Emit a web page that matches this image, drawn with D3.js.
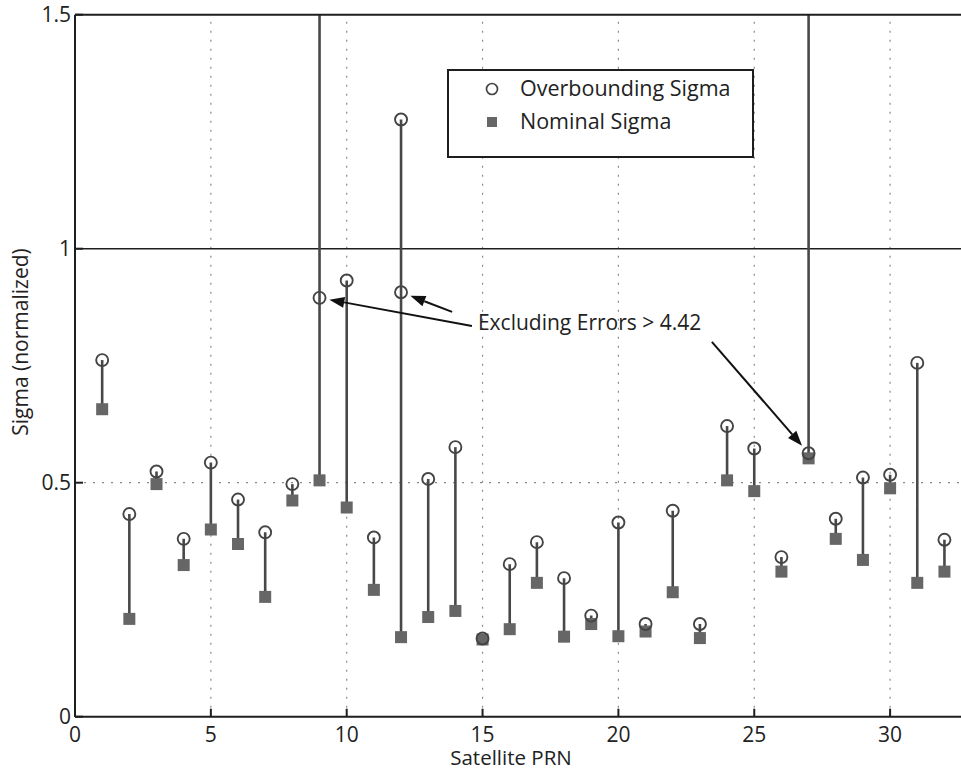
<!DOCTYPE html>
<html>
<head>
<meta charset="utf-8">
<script src="https://cdn.jsdelivr.net/npm/d3@7"></script>
<style>
  html, body { margin: 0; padding: 0; background: #fff; }
  svg { display: block; font-family: "Open Sans", "Noto Sans", sans-serif; }
</style>
</head>
<body>
<div id="chart"></div>
<script>
// Satellite PRN 1..32
const prn = d3.range(1, 33);
// overbounding sigma (PRN 9 and 27 are off the top of the chart)
const overbound = [0.762, 0.433, 0.524, 0.380, 0.543, 0.464, 0.394, 0.497, 1.9, 0.932,
                   0.383, 1.276, 0.508, 0.576, 0.167, 0.326, 0.373, 0.296, 0.216, 0.415,
                   0.198, 0.440, 0.198, 0.621, 0.573, 0.341, 1.9, 0.423, 0.511, 0.517,
                   0.756, 0.378];
const nominal = [0.657, 0.209, 0.497, 0.324, 0.400, 0.369, 0.256, 0.462, 0.505, 0.447,
                 0.271, 0.170, 0.213, 0.226, 0.165, 0.187, 0.286, 0.171, 0.198, 0.172,
                 0.182, 0.266, 0.168, 0.505, 0.482, 0.310, 0.552, 0.380, 0.335, 0.488,
                 0.286, 0.310];
// overbounding sigma after excluding errors > 4.42
const excludedPrn   = [9, 12, 27];
const excludedSigma = [0.895, 0.907, 0.563];

const xTicks = [0, 5, 10, 15, 20, 25, 30];
const yTicks = [0, 0.5, 1, 1.5];
const threshold = 1;

const COLORS = { axis: '#1e1e1e', text: '#222', stem: '#484848', square: '#666', circle: '#444', grid: '#8a8a8a' };

const W = 961, H = 769, M = { top: 14.7, left: 75 };
const unit = 27.17;
const iH = 702;
const FS = 21;

const svg = d3.select('#chart').append('svg').attr('width', W).attr('height', H);

const x = d3.scaleLinear().domain([0, 33]).range([M.left, M.left + 33 * unit]);
const y = d3.scaleLinear().domain([0, 1.5]).range([M.top + iH, M.top]);

svg.append('clipPath').attr('id', 'plot')
  .append('rect').attr('x', x(0)).attr('y', y(1.5)).attr('width', x(33) - x(0)).attr('height', iH);

// ── grid ──
const gridG = svg.append('g');
xTicks.filter(d => d > 0).forEach(v => {
  gridG.append('line').attr('x1', x(v)).attr('x2', x(v)).attr('y1', y(0)).attr('y2', y(1.5))
    .attr('stroke', COLORS.grid).attr('stroke-width', 1.2).attr('stroke-dasharray', '2,7');
});
gridG.append('line').attr('x1', x(0)).attr('x2', x(33)).attr('y1', y(0.5)).attr('y2', y(0.5))
  .attr('stroke', COLORS.grid).attr('stroke-width', 1.2).attr('stroke-dasharray', '2,7');

// threshold line
svg.append('line').attr('x1', x(0)).attr('x2', x(33)).attr('y1', y(threshold)).attr('y2', y(threshold))
  .attr('stroke', COLORS.axis).attr('stroke-width', 1.6);

// ── data ──
const data = prn.map((p, i) => ({ prn: p, over: overbound[i], nom: nominal[i] }));
const excl = excludedPrn.map((p, i) => ({ prn: p, val: excludedSigma[i] }));

const g = svg.append('g').attr('clip-path', 'url(#plot)');

g.selectAll('.stem').data(data).join('line')
  .attr('x1', d => x(d.prn)).attr('x2', d => x(d.prn))
  .attr('y1', d => y(d.nom)).attr('y2', d => y(d.over))
  .attr('stroke', COLORS.stem).attr('stroke-width', 2.6);

const sq = 12;
g.selectAll('.nom').data(data).join('rect')
  .attr('x', d => x(d.prn) - sq / 2).attr('y', d => y(d.nom) - sq / 2)
  .attr('width', sq).attr('height', sq)
  .attr('fill', COLORS.square);

g.selectAll('.over').data(data).join('circle')
  .attr('cx', d => x(d.prn)).attr('cy', d => y(d.over)).attr('r', 6)
  .attr('fill', 'none').attr('stroke', COLORS.circle).attr('stroke-width', 1.9);

g.selectAll('.excl').data(excl).join('circle')
  .attr('cx', d => x(d.prn)).attr('cy', d => y(d.val)).attr('r', 6)
  .attr('fill', 'none').attr('stroke', COLORS.circle).attr('stroke-width', 1.9);

// ── axes / box ──
const axisG = svg.append('g');
axisG.append('line').attr('x1', x(0)).attr('x2', x(0)).attr('y1', y(0)).attr('y2', y(1.5))
  .attr('stroke', COLORS.axis).attr('stroke-width', 2);
axisG.append('line').attr('x1', x(0)).attr('x2', W).attr('y1', y(0)).attr('y2', y(0))
  .attr('stroke', COLORS.axis).attr('stroke-width', 2);
axisG.append('line').attr('x1', x(0)).attr('x2', W).attr('y1', y(1.5)).attr('y2', y(1.5))
  .attr('stroke', COLORS.axis).attr('stroke-width', 2);

xTicks.forEach(v => {
  axisG.append('line').attr('x1', x(v)).attr('x2', x(v)).attr('y1', y(0)).attr('y2', y(0) - 8)
    .attr('stroke', COLORS.axis).attr('stroke-width', 2);
  axisG.append('text').attr('x', x(v)).attr('y', y(0) + 25)
    .attr('text-anchor', 'middle').attr('fill', COLORS.text).attr('font-size', FS)
    .text(v);
});
yTicks.forEach(v => {
  axisG.append('line').attr('x1', x(0)).attr('x2', x(0) + 8).attr('y1', y(v)).attr('y2', y(v))
    .attr('stroke', COLORS.axis).attr('stroke-width', 2);
  axisG.append('text').attr('x', x(0) - 4).attr('y', y(v) + 7)
    .attr('text-anchor', 'end').attr('fill', COLORS.text).attr('font-size', FS)
    .text(v);
});

svg.append('text').attr('x', 511).attr('y', 765)
  .attr('text-anchor', 'middle').attr('fill', COLORS.text).attr('font-size', 20.5)
  .text('Satellite PRN');
svg.append('text').attr('transform', `translate(28,342) rotate(-90)`)
  .attr('text-anchor', 'middle').attr('fill', COLORS.text).attr('font-size', FS)
  .text('Sigma (normalized)');

// ── legend ──
const lg = svg.append('g');
lg.append('rect').attr('x', 448).attr('y', 70).attr('width', 305).attr('height', 87)
  .attr('fill', '#fff').attr('stroke', COLORS.axis).attr('stroke-width', 2);
lg.append('circle').attr('cx', 492).attr('cy', 89).attr('r', 5.5)
  .attr('fill', 'none').attr('stroke', COLORS.circle).attr('stroke-width', 1.7);
lg.append('rect').attr('x', 487).attr('y', 117).attr('width', 10).attr('height', 10)
  .attr('fill', COLORS.square);
lg.append('text').attr('x', 520).attr('y', 96).attr('fill', COLORS.text).attr('font-size', 21.5)
  .text('Overbounding Sigma');
lg.append('text').attr('x', 520).attr('y', 129).attr('fill', COLORS.text).attr('font-size', 21.5)
  .text('Nominal Sigma');

// ── annotation ──
const annText = { x: 14.83, y: 0.826 };
const tails = [
  { x: 14.61, y: 0.835, to: 0 },
  { x: 13.88, y: 0.865, to: 1 },
  { x: 23.44, y: 0.801, to: 2 },
];
svg.append('text').attr('x', x(annText.x)).attr('y', y(annText.y))
  .attr('fill', COLORS.text).attr('font-size', 21)
  .text('Excluding Errors > 4.42');

tails.forEach(t => {
  const tx = x(t.x), ty = y(t.y);
  const cx = x(excl[t.to].prn), cy = y(excl[t.to].val);
  const dx = cx - tx, dy = cy - ty, len = Math.hypot(dx, dy);
  const ux = dx / len, uy = dy / len;
  const tipX = cx - ux * 10, tipY = cy - uy * 10;
  const hl = 15, hw = 5.5;
  const bx = tipX - ux * hl, by = tipY - uy * hl;
  svg.append('line').attr('x1', tx).attr('y1', ty).attr('x2', bx).attr('y2', by)
    .attr('stroke', '#111').attr('stroke-width', 2);
  svg.append('path')
    .attr('d', `M${tipX},${tipY}L${bx - uy * hw},${by + ux * hw}L${bx + uy * hw},${by - ux * hw}Z`)
    .attr('fill', '#111');
});
</script>
</body>
</html>
